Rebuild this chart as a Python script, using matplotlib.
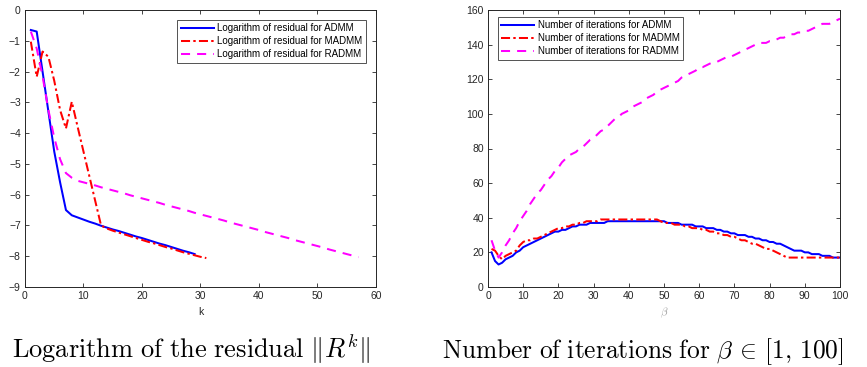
import matplotlib
matplotlib.use("Agg")
import matplotlib.pyplot as plt
import numpy as np

plt.rcParams['mathtext.fontset'] = 'cm'
plt.rcParams['font.family'] = ['Liberation Sans', 'DejaVu Sans']

# ---- Left panel data: log of residual vs k ----
k_admm = list(range(1, 30))
res_admm = [-0.65, -0.70, -2.00, -3.30, -4.60, -5.60, -6.50, -6.67, -6.74, -6.81,
            -6.88, -6.94, -7.01, -7.07, -7.13, -7.18, -7.24, -7.30, -7.36, -7.41,
            -7.47, -7.53, -7.59, -7.64, -7.70, -7.76, -7.82, -7.87, -7.93]
k_madmm = list(range(1, 32))
res_madmm = [-1.03, -2.17, -1.35, -1.52, -2.30, -3.25, -3.85, -2.98, -3.80, -4.60,
             -5.40, -6.20, -7.00, -7.10, -7.17, -7.23, -7.29, -7.35, -7.41, -7.47,
             -7.53, -7.58, -7.64, -7.70, -7.75, -7.81, -7.87, -7.92, -7.97, -8.02,
             -8.06]
k_radmm = list(range(1, 58))
res_radmm = [-0.70, -1.25, -2.15, -3.25, -4.15, -4.85, -5.30, -5.45, -5.55, -5.60,
             -5.65, -5.70, -5.76, -5.81, -5.86, -5.91, -5.96, -6.02, -6.07, -6.12,
             -6.17, -6.22, -6.27, -6.33, -6.38, -6.43, -6.48, -6.53, -6.59, -6.64,
             -6.69, -6.74, -6.79, -6.84, -6.90, -6.95, -7.00, -7.05, -7.10, -7.15,
             -7.21, -7.26, -7.31, -7.36, -7.41, -7.47, -7.52, -7.57, -7.62, -7.67,
             -7.72, -7.78, -7.83, -7.88, -7.93, -7.98, -8.03]

# ---- Right panel data: iterations vs beta ----
beta = list(range(1, 101))
it_admm = [20, 15, 13, 14, 16, 17, 18, 20, 21, 23,
           24, 25, 26, 27, 28, 29, 30, 31, 32, 32,
           33, 33, 34, 35, 35, 36, 36, 36, 37, 37,
           37, 37, 37, 38, 38, 38, 38, 38, 38, 38,
           38, 38, 38, 38, 38, 38, 38, 38, 38, 38,
           37, 37, 37, 37, 36, 36, 36, 36, 35, 35,
           35, 34, 34, 34, 33, 33, 32, 32, 31, 31,
           30, 30, 30, 29, 29, 28, 28, 27, 27, 26,
           26, 25, 25, 24, 23, 22, 21, 21, 21, 20,
           20, 19, 19, 19, 18, 18, 18, 17, 17, 17]
it_madmm = [22, 21, 18, 16, 18, 19, 20, 21, 24, 26,
            27, 27, 28, 28, 29, 30, 31, 32, 33, 34,
            34, 35, 35, 36, 36, 37, 37, 38, 38, 38,
            38, 39, 39, 39, 39, 39, 39, 39, 39, 39,
            39, 39, 39, 39, 39, 39, 39, 39, 38, 37,
            37, 37, 36, 36, 36, 35, 35, 34, 34, 34,
            33, 33, 32, 32, 31, 31, 30, 30, 29, 29,
            28, 27, 27, 26, 25, 25, 24, 23, 22, 22,
            21, 20, 19, 18, 17, 17, 17, 17, 17, 17,
            17, 17, 17, 17, 17, 17, 17, 17, 17, 17]
it_radmm = [27, 21, 17, 20, 24, 27, 31, 34, 38, 41,
            44, 48, 51, 54, 56, 59, 62, 64, 67, 69,
            72, 74, 76, 77, 78, 80, 81, 83, 85, 86,
            88, 90, 91, 93, 95, 97, 98, 100, 101, 102,
            104, 105, 106, 107, 109, 110, 111, 113, 114, 115,
            116, 117, 118, 119, 121, 122, 123, 124, 125, 127,
            127, 128, 129, 130, 130, 131, 132, 133, 133, 134,
            135, 136, 137, 138, 139, 140, 141, 141, 141, 142,
            142, 143, 144, 144, 145, 146, 146, 147, 147, 148,
            148, 149, 150, 151, 152, 152, 152, 153, 154, 155]

left_xticks = [0, 10, 20, 30, 40, 50, 60]
left_yticks = [0, -1, -2, -3, -4, -5, -6, -7, -8, -9]
right_xticks = [0, 10, 20, 30, 40, 50, 60, 70, 80, 90, 100]
right_yticks = [0, 20, 40, 60, 80, 100, 120, 140, 160]

W, H = 867, 367
fig = plt.figure(figsize=(W / 100, H / 100), dpi=100)
fig.patch.set_facecolor('white')

axL = fig.add_axes([25 / W, 1 - 287 / H, 351 / W, 277 / H])
axR = fig.add_axes([488 / W, 1 - 287 / H, 352 / W, 277 / H])

blue = '#0000ff'
red = '#ff0000'
mag = '#ff00ff'
axcol = '#262626'
LW = 1.45

axL.plot(k_admm, res_admm, '-', color=blue, lw=LW, label='Logarithm of residual for ADMM')
axL.plot(k_madmm, res_madmm, '-.', color=red, lw=LW, dashes=(4.5, 1.6, 1.2, 1.6),
         label='Logarithm of residual for MADMM')
axL.plot(k_radmm, res_radmm, '--', color=mag, lw=LW, dashes=(4.5, 3.5),
         label='Logarithm of residual for RADMM')
axL.set_xlim(0, 60)
axL.set_ylim(-9, 0)
axL.set_xticks(left_xticks)
axL.set_yticks(left_yticks)
axL.set_xlabel('k', fontsize=7.5, color=axcol, labelpad=4)

axR.plot(beta, it_admm, '-', color=blue, lw=LW, label='Number of iterations for ADMM')
axR.plot(beta, it_madmm, '-.', color=red, lw=LW, dashes=(4.5, 1.6, 1.2, 1.6),
         label='Number of iterations for MADMM')
axR.plot(beta, it_radmm, '--', color=mag, lw=LW, dashes=(4.5, 3.5),
         label='Number of iterations for RADMM')
axR.set_xlim(0, 100)
axR.set_ylim(0, 160)
axR.set_xticks(right_xticks)
axR.set_yticks(right_yticks)
axR.set_xlabel(r'$\beta$', fontsize=8, color='#a0a0a0', labelpad=3)

legpos = {axL: ('upper right', (0.9715, 0.9639)), axR: ('upper left', (0.0276, 0.9747))}
for ax in (axL, axR):
    ax.tick_params(direction='in', top=True, right=True, labelsize=7.5, colors=axcol,
                   length=3, width=0.6, pad=3)
    for s in ax.spines.values():
        s.set_color(axcol)
        s.set_linewidth(0.7)
    loc, anchor = legpos[ax]
    leg = ax.legend(loc=loc, bbox_to_anchor=anchor, fontsize=7,
                    frameon=True, fancybox=False, edgecolor=axcol, handlelength=3.4,
                    handletextpad=0.4, borderpad=0.35, labelspacing=0.3,
                    borderaxespad=0.0)
    leg.get_frame().set_linewidth(0.7)

fig.text(191.5 / W, 1 - 358 / H, r'$\mathrm{Logarithm\ of\ the\ residual}\ \Vert R^k\Vert$',
         ha='center', va='baseline', fontsize=19)
fig.text(643 / W, 1 - 358 / H,
         r'$\mathrm{Number\ of\ iterations\ for}\ \beta\,\in\,[1,\,100]$',
         ha='center', va='baseline', fontsize=18.3)

fig.savefig('out.png', dpi=100, facecolor='white')
